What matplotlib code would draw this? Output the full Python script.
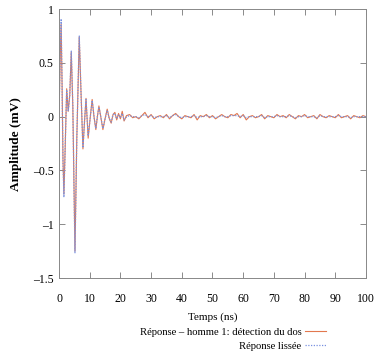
import matplotlib
matplotlib.use('Agg')
import matplotlib.pyplot as plt
from matplotlib.ticker import FixedLocator

plt.rcParams['font.family'] = ['Liberation Serif', 'DejaVu Serif']

# time (ns) and amplitude (mV)
t_early = [0, 0.4, 0.7, 1.0, 1.3, 1.6, 2.0, 2.5, 3.0, 3.5, 4.0, 4.5, 5.2, 5.8,
           6.6, 7.2, 7.8, 8.3, 8.8, 9.5, 10.2, 10.8, 11.4, 12.0, 12.5, 13.0,
           13.6, 14.3, 15.0, 15.7, 16.4, 17.0, 17.6, 18.2, 18.8, 19.4, 20.0,
           20.6, 21.2, 22.0]
raw_early = [0.0, 0.55, 0.86, 0.3, -0.4, -0.72, -0.3, 0.26, 0.05, 0.2, 0.6,
             0.1, -1.25, -0.2, 0.74, 0.2, -0.3, -0.05, 0.17, -0.2, 0.0, 0.16,
             0.0, -0.12, 0.0, 0.1, 0.0, -0.12, -0.02, 0.07, -0.02, -0.06, 0.02,
             0.04, -0.03, 0.03, -0.02, 0.05, -0.04, 0.01]
smooth_early = [0.0, 0.6, 0.91, 0.3, -0.42, -0.75, -0.3, 0.25, 0.05, 0.2,
                0.61, 0.1, -1.27, -0.2, 0.75, 0.2, -0.29, -0.05, 0.16, -0.18,
                0.0, 0.15, 0.0, -0.11, 0.0, 0.09, 0.0, -0.11, -0.02, 0.06,
                -0.02, -0.05, 0.02, 0.03, -0.02, 0.02, -0.01, 0.03, -0.03, 0.0]

t_late = list(range(23, 101))
raw_late = [0.02, -0.01, 0.0, -0.02, 0.01, 0.04, -0.01, 0.02, -0.02, 0.0,
            0.01, -0.01, 0.02, -0.02, 0.01, 0.03, 0.0, -0.02, 0.01, 0.0,
            -0.01, 0.02, -0.03, 0.01, 0.0, 0.02, -0.01, 0.01, -0.02, 0.0,
            0.02, 0.0, -0.01, 0.02, 0.01, 0.03, -0.01, 0.02, -0.03, 0.0,
            0.01, -0.01, 0.0, 0.02, -0.02, 0.01, 0.0, -0.01, 0.02, 0.0,
            0.01, -0.01, 0.02, 0.0, -0.02, 0.01, 0.0, 0.02, -0.01, 0.0,
            0.01, -0.02, 0.02, 0.0, -0.01, 0.01, 0.0, -0.01, 0.02, -0.01,
            0.0, 0.01, -0.02, 0.01, 0.0, -0.01, 0.01, 0.0]
smooth_late = [0.01, 0.0, 0.0, -0.01, 0.01, 0.02, 0.0, 0.01, -0.01, 0.0,
               0.0, 0.0, 0.01, -0.01, 0.01, 0.02, 0.0, -0.01, 0.0, 0.0,
               0.0, 0.01, -0.01, 0.0, 0.0, 0.01, 0.0, 0.0, -0.01, 0.0,
               0.01, 0.0, 0.0, 0.01, 0.01, 0.01, 0.0, 0.01, -0.01, 0.0,
               0.0, 0.0, 0.0, 0.01, -0.01, 0.0, 0.0, 0.0, 0.01, 0.0,
               0.0, 0.0, 0.01, 0.0, -0.01, 0.0, 0.0, 0.01, 0.0, 0.0,
               0.0, -0.01, 0.01, 0.0, 0.0, 0.0, 0.0, 0.0, 0.01, 0.0,
               0.0, 0.0, -0.01, 0.0, 0.0, 0.0, 0.0, 0.0]

t = t_early + t_late
raw = raw_early + raw_late
smooth = smooth_early + smooth_late

x_ticks = [0, 10, 20, 30, 40, 50, 60, 70, 80, 90, 100]
y_ticks = [-1.5, -1, -0.5, 0, 0.5, 1]
y_labels = ['\u20131.5', '\u20131', '\u20130.5', '0', '0.5', '1']

fig = plt.figure(figsize=(3.77, 3.59), dpi=100)
ax = fig.add_axes([0.1565, 0.2256, 0.8143, 0.749])

ax.plot(t, raw, color='#e2784e', lw=0.8, label='Réponse \u2013 homme 1: détection du dos')
ax.plot(t, smooth, color='#7890e0', lw=0.9, ls=(0, (1, 1.2)), label='Réponse lissée')

ax.set_xlim(0, 100)
ax.set_ylim(-1.5, 1)
ax.xaxis.set_major_locator(FixedLocator(x_ticks))
ax.set_yticks(y_ticks)
ax.set_yticklabels(y_labels)
ax.tick_params(direction='in', top=True, right=True, length=4, width=0.6,
               color='#777777', labelsize=8.5)
ax.tick_params(axis='x', pad=11)
ax.tick_params(axis='y', pad=4)
for s in ax.spines.values():
    s.set_color('#888888')
    s.set_linewidth(0.7)

ax.set_xlabel('Temps (ns)', fontsize=8, labelpad=5)
ax.set_ylabel('Amplitude (mV)', fontsize=9.5, fontweight='bold')
ax.yaxis.set_label_coords(-0.12, 0.5)

fig.legend(loc='upper right', bbox_to_anchor=(326 / 377, 0.089), frameon=False,
           markerfirst=False, fontsize=7.7, handlelength=2.0, handletextpad=0.3,
           labelspacing=0.45, borderpad=0, borderaxespad=0)

fig.savefig('out.png', dpi=100)
